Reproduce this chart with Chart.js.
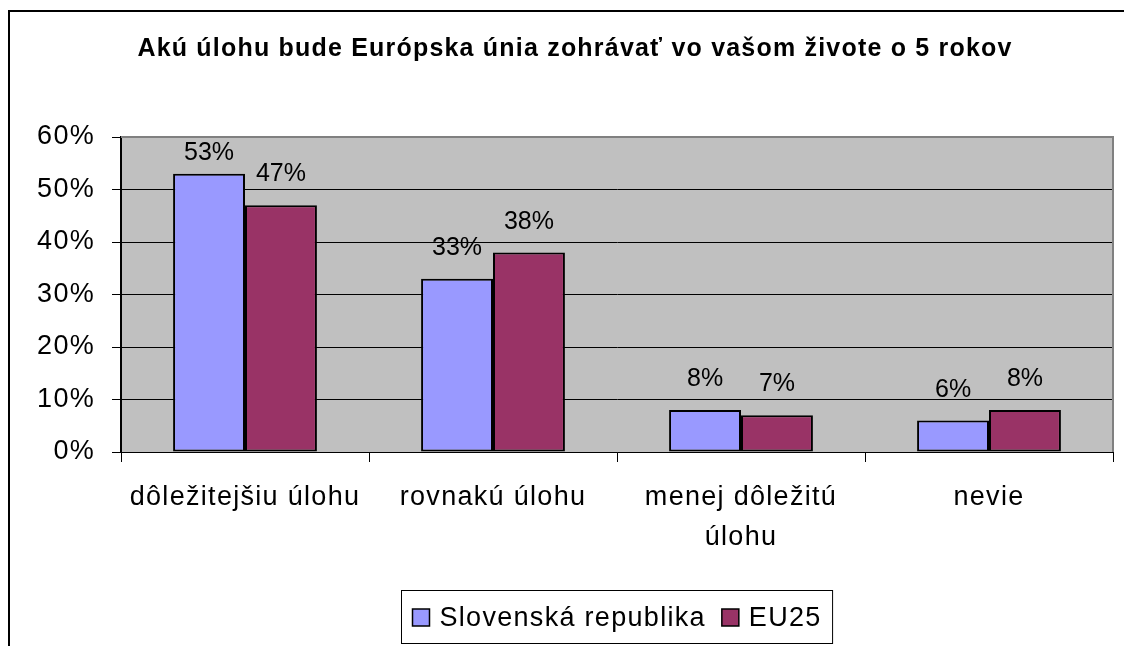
<!DOCTYPE html>
<html>
<head>
<meta charset="utf-8">
<script src="https://cdn.jsdelivr.net/npm/chart.js@4.4.1/dist/chart.umd.min.js"></script>
<style>
  html, body { margin:0; background:#fff; }
  canvas { display:block; }
</style>
</head>
<body>
<canvas id="chart" width="1124" height="646"></canvas>
<script>
// data
const chartTitle = "Akú úlohu bude Európska únia zohrávať vo vašom živote o 5 rokov";
const categories = ["dôležitejšiu úlohu", "rovnakú úlohu", ["menej dôležitú", "úlohu"], "nevie"];
const seriesNames = ["Slovenská republika", "EU25"];
const slovakia = [53, 33, 8, 6];
const eu25 = [47, 38, 7, 8];
const yMax = 60, yStep = 10;

const FONT = "'Liberation Sans', Arial, sans-serif";
const colors = ["#9999FF", "#993366"];
const WIDE = "1.3px"; // excel text looks horizontally stretched

// draws frame, plot background, data labels, title and legend
const excelLook = {
  id: "excelLook",
  beforeLayout(chart) { chart.ctx.letterSpacing = WIDE; },
  beforeDraw(chart) {
    const { ctx, chartArea: a } = chart;
    ctx.save();
    ctx.fillStyle = "#fff";
    ctx.fillRect(0, 0, chart.width, chart.height);
    ctx.fillStyle = "#C0C0C0";
    ctx.fillRect(a.left, a.top, a.right - a.left, a.bottom - a.top);
    ctx.restore();
    ctx.letterSpacing = WIDE;
  },
  afterDatasetsDraw(chart) {
    const { ctx, chartArea: a } = chart;
    ctx.save();
    ctx.strokeStyle = "#808080"; ctx.lineWidth = 2;
    ctx.beginPath();
    ctx.moveTo(a.left, a.top); ctx.lineTo(a.right, a.top); ctx.lineTo(a.right, a.bottom);
    ctx.stroke();

    ctx.letterSpacing = "0px";
    ctx.font = `25px ${FONT}`;
    ctx.fillStyle = "#000"; ctx.textAlign = "center"; ctx.textBaseline = "alphabetic";
    chart.data.datasets.forEach((ds, i) => {
      chart.getDatasetMeta(i).data.forEach((bar, j) => {
        const y = Math.max(bar.y - 24, a.top + 23);
        ctx.fillText(ds.data[j] + "%", bar.x, y);
      });
    });
    ctx.restore();
  },
  afterDraw(chart) {
    const { ctx, chartArea: a } = chart;
    ctx.save();
    // outer chart border (runs off the picture at right/bottom)
    ctx.strokeStyle = "#000"; ctx.lineWidth = 2;
    ctx.strokeRect(9, 11, 1200, 1000);

    // title
    ctx.fillStyle = "#000";
    ctx.letterSpacing = "1.2px";
    ctx.font = `bold 25px ${FONT}`;
    ctx.textAlign = "center"; ctx.textBaseline = "alphabetic";
    ctx.fillText(chartTitle, 575, 56);

    // legend
    ctx.letterSpacing = WIDE;
    ctx.font = `27px ${FONT}`;
    ctx.textAlign = "left";
    const sq = 17, gapSq = 10, gapItem = 16, padL = 11, padR = 11;
    const items = chart.data.datasets.map(ds => ({ label: ds.label, color: ds.backgroundColor, w: ctx.measureText(ds.label).width }));
    let total = padL + padR;
    items.forEach((it, i) => { total += sq + gapSq + it.w + (i ? gapItem : 0); });
    const cx = (a.left + a.right) / 2;
    const bx = Math.round(cx - total / 2) + 0.5, by = 590.5, bh = 53;
    ctx.fillStyle = "#fff";
    ctx.fillRect(bx, by, total, bh);
    ctx.strokeStyle = "#000"; ctx.lineWidth = 1;
    ctx.strokeRect(bx, by, total, bh);
    let x = bx + padL;
    items.forEach((it, i) => {
      if (i) x += gapItem;
      ctx.fillStyle = it.color;
      ctx.fillRect(x, 609, sq, sq);
      ctx.lineWidth = 1.5; ctx.strokeStyle = "#000";
      ctx.strokeRect(x, 609, sq, sq);
      x += sq + gapSq;
      ctx.fillStyle = "#000";
      ctx.fillText(it.label, x, 626);
      x += it.w;
    });
    ctx.restore();
  }
};

new Chart(document.getElementById("chart"), {
  type: "bar",
  data: {
    labels: categories,
    datasets: [
      { label: seriesNames[0], data: slovakia, backgroundColor: colors[0] },
      { label: seriesNames[1], data: eu25, backgroundColor: colors[1] }
    ]
  },
  options: {
    responsive: false,
    devicePixelRatio: 1,
    animation: false,
    layout: { padding: { top: 137, right: 11, left: 0, bottom: 0 } },
    datasets: {
      bar: {
        borderColor: "#000",
        borderWidth: 2,
        borderSkipped: false,
        categoryPercentage: 0.58,
        barPercentage: 1
      }
    },
    plugins: { legend: { display: false }, title: { display: false }, tooltip: { enabled: false } },
    scales: {
      x: {
        afterFit(s) { s.height = 194; },
        grid: { drawOnChartArea: false, drawTicks: true, tickLength: 10, color: "#000", lineWidth: 1 },
        border: { color: "#000", width: 1 },
        ticks: {
          color: "#000", autoSkip: false, maxRotation: 0, padding: 15,
          font: { family: FONT, size: 27, lineHeight: 1.5 }
        }
      },
      y: {
        min: 0, max: yMax,
        afterFit(s) { s.width = 121; },
        grid: { color: "#000", lineWidth: 1, tickLength: 9, drawTicks: true },
        border: { color: "#000", width: 2 },
        ticks: {
          stepSize: yStep, color: "#000", padding: 17,
          font: { family: FONT, size: 27 },
          callback: v => v + "%"
        }
      }
    }
  },
  plugins: [excelLook]
});
</script>
</body>
</html>
